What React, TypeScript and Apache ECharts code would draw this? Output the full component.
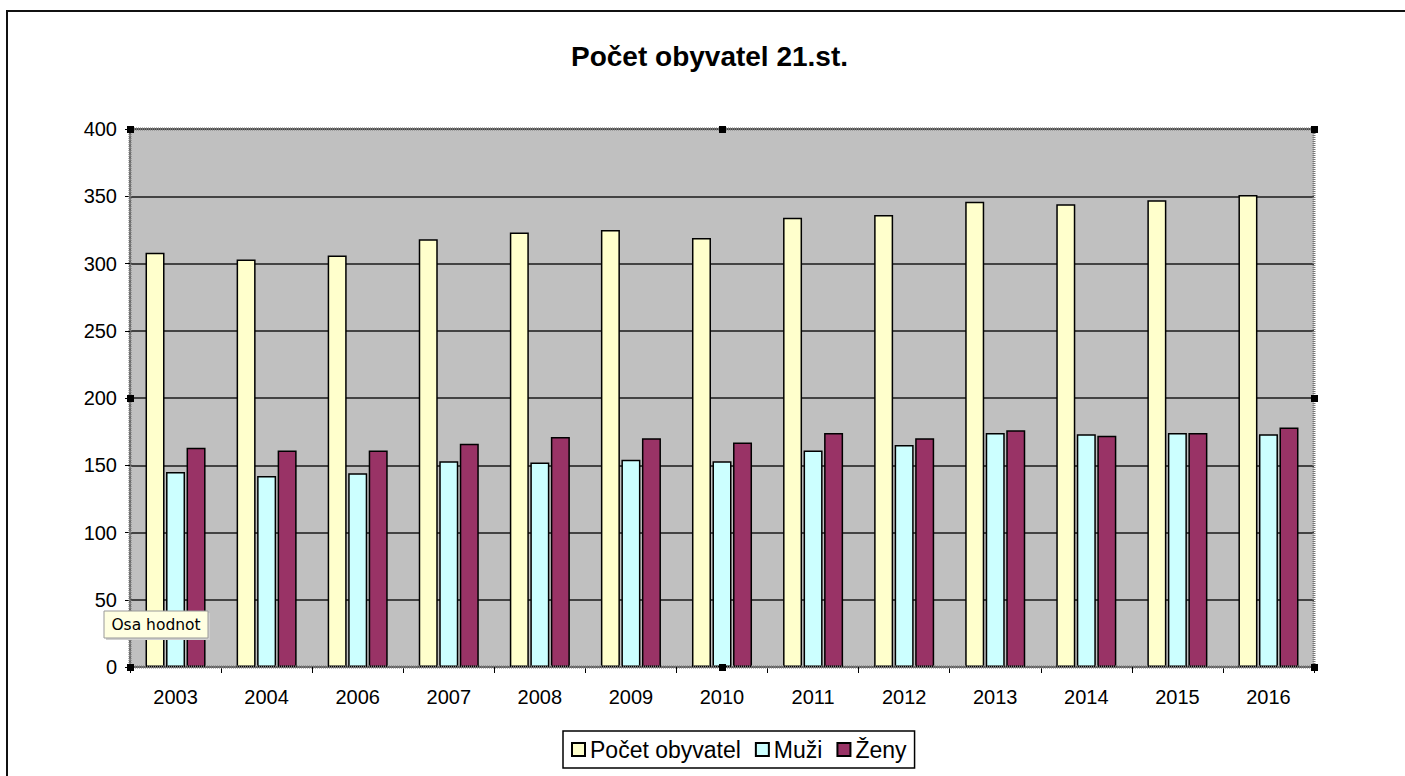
import React, { useEffect, useRef } from "react";
import * as echarts from "echarts";

const categories = ["2003", "2004", "2006", "2007", "2008", "2009", "2010", "2011", "2012", "2013", "2014", "2015", "2016"];
const pocetObyvatel = [308, 303, 306, 318, 323, 325, 319, 334, 336, 346, 344, 347, 351];
const muzi = [145, 142, 144, 153, 152, 154, 153, 161, 165, 174, 173, 174, 173];
const zeny = [163, 161, 161, 166, 171, 170, 167, 174, 170, 176, 172, 174, 178];
const seriesNames = ["Počet obyvatel", "Muži", "Ženy"];
const yTicks = { min: 0, max: 400, interval: 50 };

const FONT = "'Liberation Sans', Arial, sans-serif";

export default function App() {
  const ref = useRef<HTMLDivElement>(null);
  useEffect(() => {
    document.body.style.margin = "0";
    if (!ref.current) return;
    const chart = echarts.init(ref.current, null, { renderer: "svg" });
    const gl = 130, gt = 129, gw = 1184, gh = 538;
    const handle = (x: number, y: number) => ({
      type: "rect",
      shape: { x: x - 3, y: y - 3, width: 7, height: 7 },
      style: { fill: "#000" },
      z: 100,
    });
    const barStyle = (color: string) => ({ color, borderColor: "#000", borderWidth: 1.5 });
    chart.setOption({
      animation: false,
      backgroundColor: "#fff",
      textStyle: { fontFamily: FONT },
      title: {
        text: "Počet obyvatel 21.st.",
        left: 571,
        top: 42,
        padding: 0,
        textStyle: { fontFamily: FONT, fontSize: 28, fontWeight: "bold", color: "#000" },
      },
      grid: {
        left: gl,
        top: gt,
        width: gw,
        height: gh,
        show: true,
        backgroundColor: "#C0C0C0",
        borderWidth: 0,
      },
      legend: {
        left: 563,
        top: 731,
        padding: [7, 8, 7, 8],
        borderColor: "#000",
        borderWidth: 1.5,
        itemWidth: 13,
        itemHeight: 13,
        itemGap: 14,
        icon: "rect",
        textStyle: { fontFamily: FONT, fontSize: 23, color: "#000" },
        data: seriesNames,
      },
      xAxis: {
        type: "category",
        data: categories,
        axisLine: { show: true, lineStyle: { color: "#666", width: 2, type: "dotted" } },
        axisTick: { show: true, length: 6, lineStyle: { color: "#000", width: 1 } },
        axisLabel: { fontFamily: FONT, fontSize: 20, color: "#000", margin: 20 },
        splitLine: { show: false },
      },
      yAxis: {
        type: "value",
        min: yTicks.min,
        max: yTicks.max,
        interval: yTicks.interval,
        axisLine: { show: true, lineStyle: { color: "#666", width: 2, type: "dotted" } },
        axisTick: { show: true, length: 5, lineStyle: { color: "#000", width: 1 } },
        axisLabel: { fontFamily: FONT, fontSize: 20, color: "#000", margin: 13 },
        splitLine: { show: true, lineStyle: { color: "#1a1a1a", width: 1.6 } },
      },
      series: [
        { name: seriesNames[0], type: "bar", data: pocetObyvatel, barWidth: 19, barGap: "8%", itemStyle: barStyle("#FFFFCC") },
        { name: seriesNames[1], type: "bar", data: muzi, barWidth: 19, barGap: "8%", itemStyle: barStyle("#CCFFFF") },
        { name: seriesNames[2], type: "bar", data: zeny, barWidth: 19, barGap: "8%", itemStyle: barStyle("#993366") },
      ],
      graphic: [
        {
          type: "rect",
          shape: { x: 7, y: 11, width: 1600, height: 1000 },
          style: { fill: "none", stroke: "#111", lineWidth: 2 },
          z: 50,
        },
        {
          type: "rect",
          shape: { x: gl, y: gt, width: gw, height: gh },
          style: { fill: "none", stroke: "#777", lineWidth: 3, lineDash: [1, 1] },
          z: 60,
        },
        handle(gl, gt),
        handle(gl + gw / 2, gt),
        handle(gl + gw, gt),
        handle(gl + gw, gt + gh / 2),
        handle(gl + gw, gt + gh),
        handle(gl + gw / 2, gt + gh),
        handle(gl, gt + gh),
        handle(gl, gt + gh / 2),
        {
          type: "rect",
          z: 200,
          shape: { x: 106, y: 613, width: 104, height: 27 },
          style: { fill: "#D0D0D0" },
        },
        {
          type: "rect",
          z: 201,
          shape: { x: 104, y: 611, width: 104, height: 27 },
          style: { fill: "#FFFFE1", stroke: "#999", lineWidth: 1 },
        },
        {
          type: "text",
          z: 202,
          x: 156,
          y: 625,
          style: {
            text: "Osa hodnot",
            font: "15.5px 'DejaVu Sans', sans-serif",
            fill: "#000",
            align: "center",
            verticalAlign: "middle",
          },
        },
      ],
    });
    return () => chart.dispose();
  }, []);
  return <div ref={ref} style={{ width: 1405, height: 776 }} />;
}
